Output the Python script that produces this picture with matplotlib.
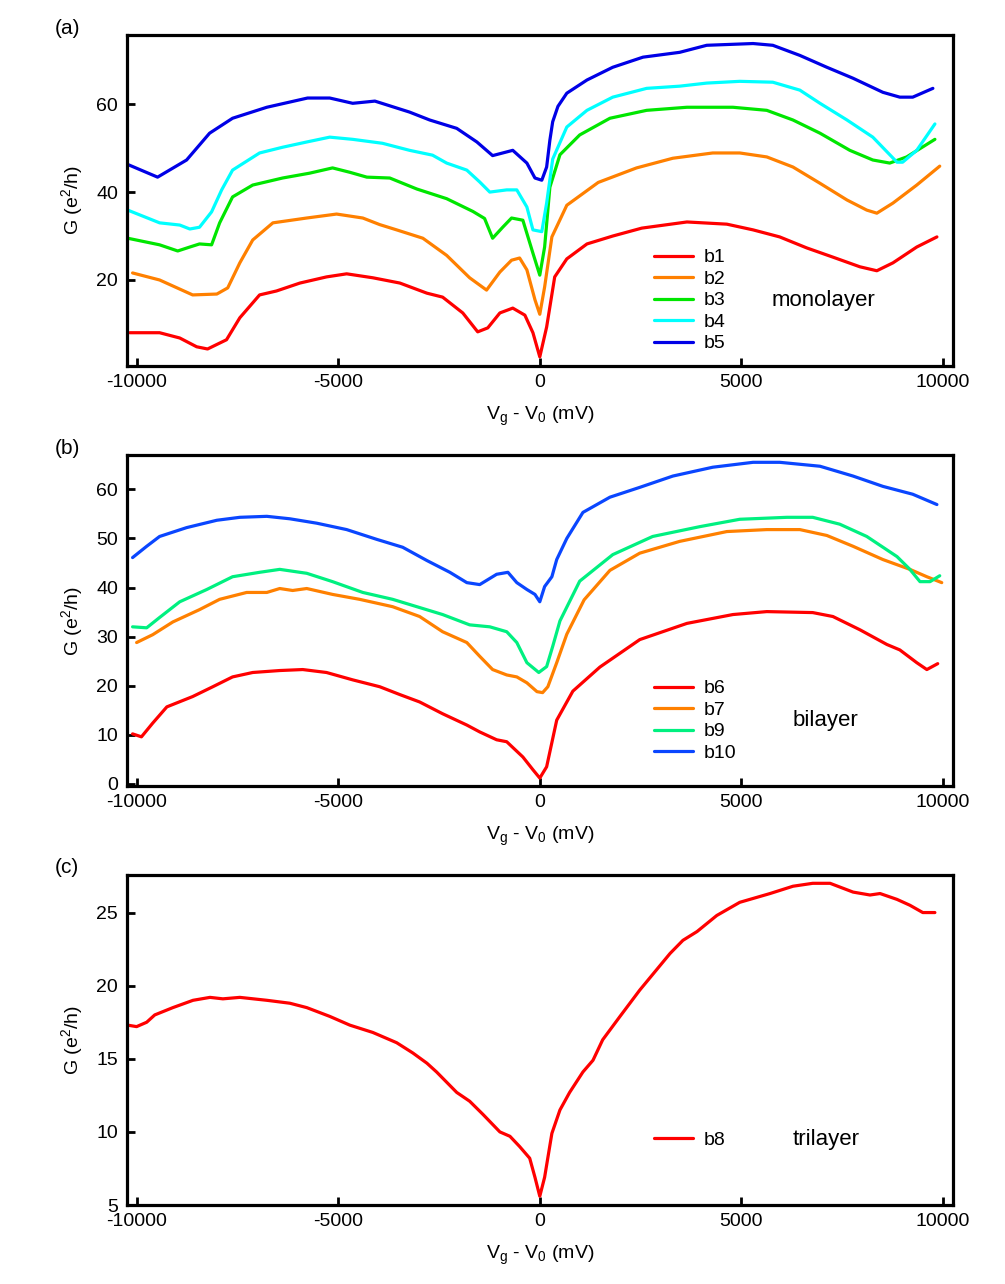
import matplotlib
matplotlib.use("Agg")
import matplotlib.pyplot as plt

plt.rcParams['font.family'] = ['Liberation Sans', 'DejaVu Sans']
plt.rcParams['mathtext.fontset'] = 'custom'
plt.rcParams['mathtext.rm'] = 'Liberation Sans'
plt.rcParams['mathtext.it'] = 'Liberation Sans'
plt.rcParams['axes.unicode_minus'] = False

# ---- panel (a): monolayer ----
b1_x = [-10170, -9430, -8930, -8510, -8240, -7770, -7440, -6950, -6530, -5950, -5290, -4790, -4140,
        -3470, -2800, -2410, -1910, -1540, -1290, -990, -670, -370, -170, 0, 170, 370, 670, 1170,
        1810, 2530, 3650, 4640, 5290, 5950, 6620, 7270, 7940, 8360, 8760, 9350, 9850]
b1_g = [8.0, 8.0, 6.8, 4.8, 4.3, 6.4, 11.4, 16.6, 17.5, 19.3, 20.7, 21.4, 20.5,
        19.3, 17.0, 16.1, 12.5, 8.2, 9.1, 12.5, 13.6, 12.0, 8.0, 2.5, 9.3, 20.7, 24.8, 28.2,
        30.0, 31.8, 33.2, 32.7, 31.4, 29.8, 27.3, 25.2, 23.0, 22.1, 23.9, 27.5, 29.8]

b2_x = [-10100, -9430, -8610, -8010, -7740, -7440, -7120, -6620, -5780, -5040, -4390, -3970, -3550,
        -2900, -2310, -1740, -1320, -990, -700, -500, -320, -120, 0, 120, 300, 670, 1450, 2400,
        3300, 4290, 4960, 5630, 6280, 6950, 7620, 8110, 8360, 8760, 9350, 9920]
b2_g = [21.6, 20.0, 16.6, 16.8, 18.2, 23.9, 29.1, 33.0, 34.1, 35.0, 34.1, 32.6, 31.4,
        29.5, 25.6, 20.5, 17.7, 21.8, 24.5, 25.0, 22.3, 15.5, 12.2, 18.4, 29.8, 37.0, 42.2, 45.5,
        47.7, 48.9, 48.9, 48.0, 45.7, 42.0, 38.2, 35.9, 35.2, 37.5, 41.6, 45.9]

b3_x = [-10220, -9430, -8980, -8680, -8440, -8140, -7940, -7620, -7120, -6380, -5710, -5140, -4710,
        -4290, -3720, -3050, -2310, -1660, -1370, -1170, -920, -700, -420, -170, 0, 120, 250, 500,
        990, 1740, 2650, 3650, 4790, 5630, 6280, 6950, 7690, 8260, 8680, 9100, 9800]
b3_g = [29.5, 28.0, 26.6, 27.5, 28.2, 28.0, 33.0, 38.9, 41.6, 43.2, 44.3, 45.5, 44.5,
        43.4, 43.2, 40.7, 38.5, 35.6, 34.0, 29.5, 32.0, 34.1, 33.6, 26.1, 21.1, 27.5, 41.1, 48.5,
        53.0, 56.8, 58.6, 59.3, 59.3, 58.6, 56.4, 53.4, 49.5, 47.3, 46.6, 48.0, 52.0]

b4_x = [-10220, -9430, -8930, -8680, -8440, -8140, -7890, -7620, -6950, -6380, -5780, -5210, -4640,
        -3900, -3230, -2660, -2310, -1810, -1490, -1240, -820, -570, -320, -170, 50, 170, 320, 670,
        1170, 1810, 2650, 3470, 4140, 4960, 5780, 6450, 6950, 7620, 8260, 8860, 9000, 9350, 9800]
b4_g = [35.9, 33.0, 32.5, 31.6, 32.0, 35.5, 40.5, 45.0, 48.9, 50.2, 51.4, 52.5, 52.0,
        51.1, 49.5, 48.4, 46.6, 45.0, 42.3, 40.0, 40.5, 40.5, 36.6, 31.4, 31.0, 37.5, 47.5, 54.8,
        58.6, 61.6, 63.6, 64.1, 64.8, 65.2, 65.0, 63.2, 60.2, 56.4, 52.5, 46.8, 46.8, 49.5, 55.5]

b5_x = [-10250, -9480, -8760, -8190, -7620, -6770, -5760, -5210, -4640, -4090, -3230, -2730, -2060,
        -1560, -1170, -920, -670, -320, -120, 50, 170, 250, 320, 450, 670, 1170, 1810, 2560, 3470,
        4140, 5290, 5780, 6450, 7120, 7770, 8510, 8930, 9250, 9750]
b5_g = [46.4, 43.4, 47.3, 53.4, 56.8, 59.3, 61.4, 61.4, 60.2, 60.7, 58.2, 56.4, 54.5,
        51.4, 48.3, 48.9, 49.5, 46.6, 43.2, 42.7, 45.7, 51.8, 56.0, 59.5, 62.5, 65.5, 68.4, 70.7, 71.8,
        73.4, 73.8, 73.4, 71.1, 68.4, 65.9, 62.7, 61.6, 61.6, 63.6]

# ---- panel (b): bilayer ----
b6_x = [-10100, -9880, -9600, -9250, -8610, -8110, -7620, -7120, -6450, -5880, -5290, -4640, -3970,
        -3470, -2980, -2410, -1810, -1490, -1070, -820, -420, -170, 0, 170, 420, 820, 1490, 2480,
        3650, 4790, 5630, 6770, 7270, 7940, 8610, 8930, 9350, 9600, 9870]
b6_g = [10.2, 9.6, 12.4, 15.7, 17.8, 19.8, 21.8, 22.7, 23.1, 23.3, 22.7, 21.2, 19.8,
        18.2, 16.7, 14.3, 12.0, 10.6, 9.0, 8.6, 5.5, 2.9, 1.2, 3.5, 13.0, 18.9, 23.8, 29.4,
        32.7, 34.5, 35.1, 34.9, 34.1, 31.4, 28.4, 27.3, 24.7, 23.3, 24.5]

b7_x = [-10000, -9600, -9100, -8440, -7940, -7270, -6770, -6450, -6130, -5780, -5140, -4470, -3650,
        -2980, -2410, -1810, -1490, -1170, -820, -570, -320, -70, 70, 200, 420, 670, 1100, 1740,
        2480, 3470, 4640, 5630, 6450, 7120, 7770, 8510, 9180, 9600, 9970]
b7_g = [28.8, 30.4, 33.0, 35.5, 37.6, 39.0, 39.0, 39.8, 39.4, 39.8, 38.6, 37.6, 36.1,
        34.1, 31.0, 28.8, 26.0, 23.3, 22.2, 21.8, 20.6, 18.8, 18.6, 19.8, 24.7, 30.5, 37.5, 43.5,
        47.0, 49.4, 51.4, 51.8, 51.8, 50.6, 48.4, 45.7, 43.7, 42.2, 41.0]

b9_x = [-10100, -9750, -9430, -8930, -8260, -7620, -6950, -6450, -5780, -5140, -4390, -3650, -3050,
        -2410, -1740, -1240, -820, -570, -320, -25, 170, 320, 500, 990, 1810, 2800, 3970, 4960,
        6130, 6770, 7440, 8110, 8860, 9180, 9430, 9680, 9920]
b9_g = [32.0, 31.8, 33.9, 37.1, 39.6, 42.2, 43.1, 43.7, 42.9, 41.2, 39.0, 37.6, 36.1,
        34.5, 32.4, 32.0, 31.0, 28.8, 24.7, 22.7, 23.9, 28.0, 33.2, 41.3, 46.7, 50.4, 52.4, 53.9,
        54.3, 54.3, 52.9, 50.4, 46.3, 43.7, 41.2, 41.2, 42.4]

b10_x = [-10100, -9750, -9430, -8760, -8010, -7440, -6770, -6200, -5530, -4790, -4040, -3400, -2800,
         -2230, -1810, -1490, -1070, -790, -570, -320, -120, 0, 120, 300, 420, 670, 1070, 1740,
         2480, 3300, 4290, 5290, 5950, 6950, 7770, 8510, 9250, 9850]
b10_g = [46.1, 48.4, 50.4, 52.2, 53.7, 54.3, 54.5, 54.0, 53.1, 51.8, 49.8, 48.2, 45.5,
         43.1, 41.0, 40.6, 42.7, 43.1, 41.0, 39.6, 38.6, 37.1, 40.2, 42.2, 45.7, 50.0, 55.3, 58.4,
         60.4, 62.7, 64.5, 65.5, 65.5, 64.7, 62.7, 60.6, 59.0, 56.9]

# ---- panel (c): trilayer ----
b8_x = [-10220, -10000, -9750, -9550, -9100, -8600, -8180, -7860, -7440, -6770, -6200, -5780, -5210,
        -4710, -4140, -3550, -3150, -2800, -2560, -2060, -1740, -1410, -990, -740, -500, -250, -120,
        0, 120, 300, 500, 740, 1070, 1320, 1560, 1990, 2480, 3230, 3550, 3900, 4390, 4960, 5710,
        6280, 6770, 7200, 7770, 8190, 8440, 8860, 9180, 9500, 9800]
b8_g = [17.3, 17.2, 17.5, 18.0, 18.5, 19.0, 19.2, 19.1, 19.2, 19.0, 18.8, 18.5, 17.9,
        17.3, 16.8, 16.1, 15.4, 14.7, 14.1, 12.7, 12.1, 11.2, 10.0, 9.7, 9.0, 8.2, 6.9,
        5.6, 6.9, 9.9, 11.5, 12.7, 14.1, 14.9, 16.3, 17.9, 19.7, 22.2, 23.1, 23.7, 24.8, 25.7, 26.3,
        26.8, 27.0, 27.0, 26.4, 26.2, 26.3, 25.9, 25.5, 25.0, 25.0]

x_ticks = [-10000, -5000, 0, 5000, 10000]

panels = [
    ("(a)", "monolayer", [(b1_x, b1_g, "b1", "#ff0000"), (b2_x, b2_g, "b2", "#ff8000"),
                          (b3_x, b3_g, "b3", "#00e600"), (b4_x, b4_g, "b4", "#00ffff"),
                          (b5_x, b5_g, "b5", "#0000e6")],
     (0.5, 75.7), [20, 40, 60], 0.7152),
    ("(b)", "bilayer", [(b6_x, b6_g, "b6", "#ff0000"), (b7_x, b7_g, "b7", "#ff8000"),
                        (b9_x, b9_g, "b9", "#00f080"), (b10_x, b10_g, "b10", "#0a46ff")],
     (-0.4, 66.9), [0, 10, 20, 30, 40, 50, 60], 0.3879),
    ("(c)", "trilayer", [(b8_x, b8_g, "b8", "#ff0000")],
     (5, 27.6), [5, 10, 15, 20, 25], 0.0615),
]

fig = plt.figure(figsize=(10.05, 12.84), dpi=100)

for tag, name, series, ylim, yticks, bottom in panels:
    ax = fig.add_axes([0.1259, bottom, 0.8224, 0.2574])
    for xs, gs, lab, col in series:
        ax.plot(xs, gs, color=col, lw=2.3, label=lab,
                solid_joinstyle='round', solid_capstyle='round')
    ax.set_xlim(-10250, 10250)
    ax.set_ylim(*ylim)
    ax.set_xticks(x_ticks)
    ax.set_yticks(yticks)
    ax.tick_params(direction='in', length=6, width=2, labelsize=14, pad=6,
                   top=False, right=False)
    for sp in ax.spines.values():
        sp.set_linewidth(2.3)
    ax.set_xlabel(r"V$_\mathregular{g}$ - V$_\mathregular{0}$ (mV)", fontsize=14, labelpad=10)
    ax.set_ylabel(r"G (e$^\mathregular{2}$/h)", fontsize=14, labelpad=8)
    ax.legend(loc='center left', bbox_to_anchor=(0.638, 0.197), frameon=False,
              fontsize=14, handlelength=2.0, handletextpad=0.55, labelspacing=0.2,
              borderpad=0, borderaxespad=0)
    ax.text(0.78 if name == "monolayer" else 0.806, 0.197, name, transform=ax.transAxes,
            fontsize=16, va='center', ha='left')
    ax.text(-0.087, 1.02, tag, transform=ax.transAxes, fontsize=15, ha='left', va='center')

fig.savefig("out.png", dpi=100)
